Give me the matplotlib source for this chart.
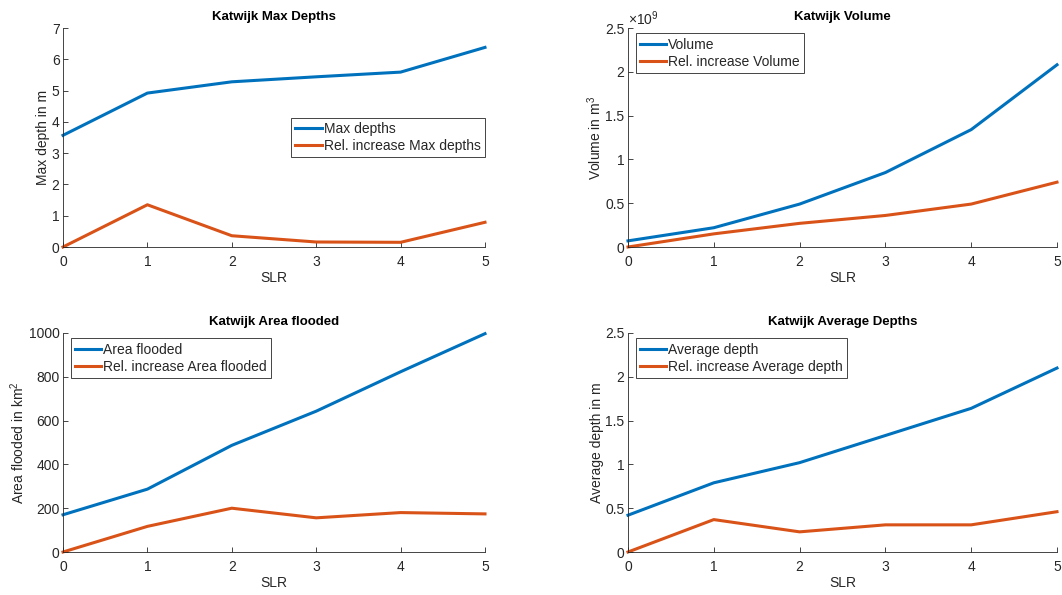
import matplotlib
matplotlib.use("Agg")
import matplotlib.pyplot as plt
from matplotlib.ticker import FuncFormatter

plt.rcParams["font.family"] = ["Liberation Sans", "DejaVu Sans"]
plt.rcParams["mathtext.fontset"] = "custom"
plt.rcParams["mathtext.rm"] = "Liberation Sans"

slr = [0, 1, 2, 3, 4, 5]

max_depths = [3.57, 4.92, 5.28, 5.44, 5.59, 6.38]
max_depths_rel = [0.0, 1.35, 0.36, 0.16, 0.15, 0.79]

volume_1e9 = [0.07, 0.22, 0.49, 0.85, 1.34, 2.08]
volume_rel_1e9 = [0.0, 0.15, 0.27, 0.36, 0.49, 0.74]

area_flooded = [170, 287, 487, 643, 823, 997]
area_flooded_rel = [0, 117, 200, 156, 180, 174]

avg_depth = [0.42, 0.79, 1.02, 1.33, 1.64, 2.10]
avg_depth_rel = [0.0, 0.37, 0.23, 0.31, 0.31, 0.46]

BLUE = "#0072BD"
ORANGE = "#D95319"
INK = "#262626"

W, H = 1062, 595
fig = plt.figure(figsize=(W / 100, H / 100), dpi=100)


def make_axes(left, right, top, bottom):
    return fig.add_axes([left / W, 1 - bottom / H, (right - left) / W, (bottom - top) / H])


def style(ax, title, ylabel, ylim, ystep):
    ax.set_xlim(0, 5)
    ax.set_ylim(*ylim)
    ax.set_xticks(slr)
    n = int(round((ylim[1] - ylim[0]) / ystep))
    ax.set_yticks([ylim[0] + i * ystep for i in range(n + 1)])
    ax.yaxis.set_major_formatter(FuncFormatter(lambda v, p: f"{v:g}"))
    for s in ("top", "right"):
        ax.spines[s].set_visible(False)
    for s in ("left", "bottom"):
        ax.spines[s].set_color(INK)
        ax.spines[s].set_linewidth(0.6)
    ax.tick_params(direction="in", length=3.5, width=0.6, colors=INK,
                   labelsize=10, labelcolor=INK)
    ax.tick_params(axis="x", pad=6)
    ax.tick_params(axis="y", pad=2.5)
    ax.set_title(title, fontsize=9.5, fontweight="bold", color="black", pad=6)
    ax.set_xlabel("SLR", fontsize=10, color=INK, labelpad=1)
    ax.set_ylabel(ylabel, fontsize=10, color=INK, labelpad=1)


def draw(ax, y, yrel, labels, **legkw):
    ax.plot(slr, y, color=BLUE, lw=2.2, label=labels[0], clip_on=False)
    ax.plot(slr, yrel, color=ORANGE, lw=2.2, label=labels[1], clip_on=False)
    leg = ax.legend(fancybox=False, edgecolor=INK, framealpha=1, fontsize=10,
                    handlelength=1.9, handletextpad=0.15, borderpad=0.3,
                    labelspacing=0.25, borderaxespad=0, **legkw)
    leg.get_frame().set_linewidth(0.6)
    for t in leg.get_texts():
        t.set_color(INK)


# Max depths
ax1 = make_axes(63, 485, 28, 247)
draw(ax1, max_depths, max_depths_rel, ["Max depths", "Rel. increase Max depths"],
     loc="center right", bbox_to_anchor=(1.0, 0.5))
style(ax1, "Katwijk Max Depths", "Max depth in m", (0, 7), 1)

# Volume
ax2 = make_axes(628, 1057, 28, 247)
draw(ax2, volume_1e9, volume_rel_1e9, ["Volume", "Rel. increase Volume"],
     loc="upper left", bbox_to_anchor=(0.018, 0.975))
style(ax2, "Katwijk Volume", "Volume in m$^3$", (0, 2.5), 0.5)
ax2.text(0.0, 1.0, r"$\times10^{9}$", transform=ax2.transAxes, fontsize=10,
         color=INK, ha="left", va="bottom")

# Area flooded
ax3 = make_axes(63, 485, 333, 552)
draw(ax3, area_flooded, area_flooded_rel, ["Area flooded", "Rel. increase Area flooded"],
     loc="upper left", bbox_to_anchor=(0.018, 0.975))
style(ax3, "Katwijk Area flooded", "Area flooded in km$^2$", (0, 1000), 200)

# Average depths
ax4 = make_axes(628, 1057, 333, 552)
draw(ax4, avg_depth, avg_depth_rel, ["Average depth", "Rel. increase Average depth"],
     loc="upper left", bbox_to_anchor=(0.018, 0.975))
style(ax4, "Katwijk Average Depths", "Average depth in m", (0, 2.5), 0.5)

fig.savefig("out.png", dpi=100, facecolor="white")
